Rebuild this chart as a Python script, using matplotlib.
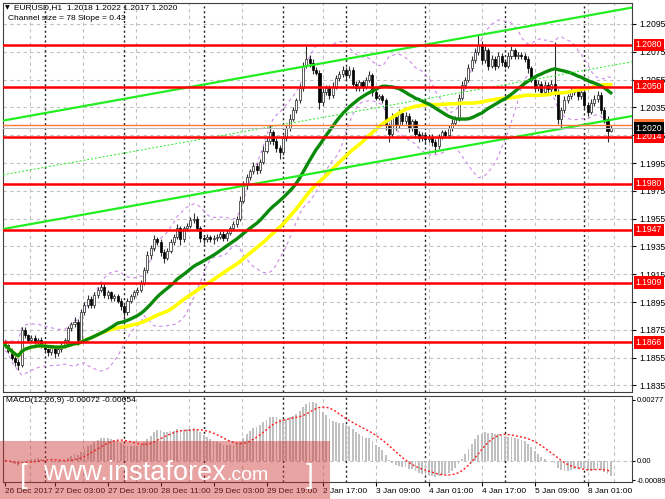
import numpy as np
import pandas as pd
import matplotlib
matplotlib.use("Agg")
import matplotlib.pyplot as plt
from matplotlib.patches import Rectangle
from matplotlib.transforms import blended_transform_factory

plt.rcParams["font.family"] = ["Liberation Sans", "DejaVu Sans"]

# EURUSD H1 closes, one per bar (26 Dec 2017 12:00 .. 8 Jan 2018 08:00)
first_open = 1.1866
closes = [
    1.1864, 1.1860, 1.1855, 1.1852, 1.1850, 1.1875, 1.1871, 1.1868, 1.1869, 1.1866,
    1.1868, 1.1864, 1.1861, 1.1859, 1.1862, 1.1858, 1.1861, 1.1864, 1.1868, 1.1876,
    1.1879, 1.1881, 1.1868, 1.1888, 1.1893, 1.1897, 1.1893, 1.1900, 1.1904, 1.1906,
    1.1900, 1.1902, 1.1898, 1.1899, 1.1896, 1.1892, 1.1888, 1.1896, 1.1899, 1.1902,
    1.1904, 1.1909, 1.1918, 1.1929, 1.1934, 1.1940, 1.1938, 1.1931, 1.1927, 1.1932,
    1.1938, 1.1942, 1.1948, 1.1940, 1.1948, 1.1950, 1.1954, 1.1955, 1.1948, 1.1941,
    1.1940, 1.1942, 1.1940, 1.1941, 1.1942, 1.1944, 1.1941, 1.1945, 1.1948, 1.1951,
    1.1955, 1.1968, 1.1979, 1.1985, 1.1989, 1.1993, 1.1990, 1.1996, 1.2004, 1.2011,
    1.2017, 1.2011, 1.2006, 1.2003, 1.2013, 1.2020, 1.2027, 1.2033, 1.2040, 1.2049,
    1.2065, 1.2070, 1.2067, 1.2062, 1.2060, 1.2039, 1.2046, 1.2049, 1.2044, 1.2050,
    1.2056, 1.2059, 1.2062, 1.2058, 1.2062, 1.2052, 1.2049, 1.2053, 1.2050, 1.2055,
    1.2058, 1.2046, 1.2042, 1.2043, 1.2040, 1.2022, 1.2016, 1.2028, 1.2022, 1.2031,
    1.2025, 1.2029, 1.2020, 1.2025, 1.2016, 1.2013, 1.2015, 1.2012, 1.2014, 1.2010,
    1.2007, 1.2014, 1.2017, 1.2015, 1.2020, 1.2024, 1.2027, 1.2042, 1.2051, 1.2055,
    1.2063, 1.2069, 1.2075, 1.2080, 1.2069, 1.2076, 1.2065, 1.2070, 1.2065, 1.2072,
    1.2068, 1.2065, 1.2072, 1.2076, 1.2072, 1.2073, 1.2072, 1.2070, 1.2063, 1.2055,
    1.2049, 1.2052, 1.2046, 1.2051, 1.2048, 1.2052, 1.2046, 1.2027, 1.2033, 1.2040,
    1.2043, 1.2046, 1.2047, 1.2043, 1.2046, 1.2037, 1.2032, 1.2038, 1.2041, 1.2044,
    1.2033, 1.2027, 1.2018, 1.2020,
]
# wick lengths above / below the body, in pips
wick_up = [
    2, 1, 2, 1, 2, 2, 2, 1, 2, 2,  1, 2, 2, 1, 2, 1, 2, 2, 1, 2,
    2, 3, 2, 2, 2, 3, 2, 2, 2, 3,  2, 2, 1, 2, 2, 2, 2, 2, 2, 2,
    2, 2, 2, 3, 2, 3, 2, 2, 2, 2,  2, 2, 3, 2, 2, 2, 2, 4, 2, 2,
    2, 2, 1, 2, 2, 2, 2, 2, 2, 2,  2, 3, 3, 2, 2, 3, 2, 2, 3, 3,
    5, 2, 2, 2, 2, 2, 3, 2, 2, 3,  3, 9, 3, 3, 2, 2, 3, 2, 2, 3,
    2, 2, 3, 2, 3, 2, 2, 2, 2, 2,  3, 2, 2, 2, 2, 2, 2, 3, 2, 3,
    2, 3, 2, 2, 2, 2, 2, 2, 2, 2,  2, 2, 2, 2, 2, 3, 2, 3, 3, 2,
    3, 3, 3, 8, 3, 3, 2, 3, 2, 3,  2, 2, 3, 3, 2, 2, 2, 2, 2, 2,
    2, 3, 2, 3, 2, 3, 30, 2, 2, 3, 2, 3, 2, 2, 3, 3, 2, 3, 3, 3,
    2, 2, 2, 2,
]
wick_dn = [
    2, 2, 2, 3, 4, 2, 2, 2, 2, 2,  2, 2, 2, 3, 2, 3, 2, 2, 2, 2,
    2, 2, 4, 2, 2, 2, 2, 2, 2, 2,  2, 3, 2, 2, 2, 3, 5, 2, 2, 2,
    2, 2, 2, 2, 3, 2, 2, 3, 4, 2,  2, 2, 2, 4, 2, 2, 2, 2, 2, 3,
    3, 2, 2, 3, 2, 2, 2, 2, 2, 2,  2, 2, 2, 3, 2, 2, 3, 2, 2, 2,
    2, 3, 3, 5, 2, 2, 2, 2, 2, 2,  2, 2, 3, 3, 2, 5, 3, 2, 3, 2,
    2, 2, 2, 3, 2, 3, 2, 2, 3, 2,  2, 3, 2, 2, 2, 3, 6, 2, 3, 2,
    3, 2, 3, 2, 3, 3, 2, 3, 2, 3,  5, 2, 2, 2, 2, 2, 2, 2, 2, 2,
    2, 2, 2, 2, 3, 2, 3, 2, 3, 2,  3, 2, 2, 2, 2, 2, 2, 2, 3, 2,
    3, 2, 3, 2, 3, 2, 3, 4, 7, 2,  2, 2, 2, 3, 2, 3, 3, 2, 2, 2,
    3, 3, 8, 1,
]

levels = [1.2080, 1.2050, 1.2014, 1.1980, 1.1947, 1.1909, 1.1866]
orange_level = 1.2022
last_price = 1.2020
channel_x = [-0.6, 189.4]
channel_low = [1.19475, 1.20288]
channel_size = 0.0078

price_ticks = [1.2095, 1.2075, 1.2055, 1.2035, 1.2015, 1.1995, 1.1975, 1.1955,
               1.1935, 1.1915, 1.1895, 1.1875, 1.1855, 1.1835]
time_tick_bars = [0, 15, 31, 47, 63, 79, 96, 112, 128, 144, 160, 176]
time_tick_labels = ["26 Dec 2017", "27 Dec 03:00", "27 Dec 19:00", "28 Dec 11:00",
                    "29 Dec 03:00", "29 Dec 19:00", "2 Jan 17:00", "3 Jan 09:00",
                    "4 Jan 01:00", "4 Jan 17:00", "5 Jan 09:00", "8 Jan 01:00"]
day_breaks = [12, 36, 60, 84, 103, 127, 151, 175]
grid_bars = [7.5, 23.5, 39.5, 55.5, 71.5, 96, 112, 128, 144, 160, 176, 184]
macd_ticks = [0.00277, 0.0, -0.00089]
macd_tick_labels = ["0.00277", "0.00", "-0.00089"]

# ---- derived series
c = np.array(closes)
o = np.concatenate([[first_open], c[:-1]])
hi = np.maximum(o, c) + np.array(wick_up) * 0.0001
lo = np.minimum(o, c) - np.array(wick_dn) * 0.0001
x = np.arange(len(c))
s = pd.Series(c)
ma_fast = s.rolling(30, min_periods=1).mean()
ma_slow = s.rolling(50, min_periods=1).mean()
bb_mid = s.rolling(20, min_periods=1).mean()
bb_std = s.rolling(20, min_periods=2).std(ddof=0).bfill()
bb_up = bb_mid + 2 * bb_std
bb_dn = bb_mid - 2 * bb_std
macd = s.ewm(span=12, adjust=False).mean() - s.ewm(span=26, adjust=False).mean()
signal = macd.rolling(9, min_periods=1).mean()

W, H = 665, 499
fig = plt.figure(figsize=(W / 100, H / 100), dpi=100)
fig.patch.set_facecolor("white")
ax = fig.add_axes([3 / W, 1 - 392 / H, 629 / W, 389 / H])
ax2 = fig.add_axes([3 / W, 1 - 482 / H, 629 / W, 86 / H])

grid_col = "#c0c0c0"
for a in (ax, ax2):
    a.set_xlim(-0.6, 189.4)
    for b in grid_bars:
        a.axvline(b, color=grid_col, lw=0.8, ls=(0, (3, 3)), zorder=0)
    for b in day_breaks:
        a.axvline(b, color="#202020", lw=1.0, ls=(0, (1.5, 2)), zorder=0.5)
    for sp in a.spines.values():
        sp.set_color("#404040")

# ---- main chart
ax.set_ylim(1.18303, 1.21101)
for p in price_ticks:
    ax.axhline(p, color=grid_col, lw=0.8, ls=(0, (3, 3)), zorder=0)

bb_kw = dict(color="#cc88e8", lw=0.8, ls=(0, (3, 3)), zorder=1)
ax.plot(x, bb_up, **bb_kw)
ax.plot(x, bb_dn, **bb_kw)

up = c >= o
ax.vlines(x, lo, hi, color="#303030", lw=0.8, zorder=2)
body_h = np.maximum(np.abs(c - o), 0.00003)
ax.bar(x[up], body_h[up], bottom=np.minimum(o, c)[up], width=0.62,
       color="white", edgecolor="#202020", lw=0.5, zorder=3)
ax.bar(x[~up], body_h[~up], bottom=np.minimum(o, c)[~up], width=0.62,
       color="black", edgecolor="black", lw=0.5, zorder=3)

ax.plot(x, ma_slow, color="#ffff00", lw=2.6, zorder=4)
ax.plot(x, ma_fast, color="#0a8a0a", lw=2.4, zorder=4)

ch_lo = np.array(channel_low)
ax.plot(channel_x, ch_lo, color="#22ee22", lw=1.6, zorder=5)
ax.plot(channel_x, ch_lo + channel_size, color="#22ee22", lw=1.6, zorder=5)
ax.plot(channel_x, ch_lo + channel_size / 2, color="#22ee22", lw=0.7,
        ls=(0, (2, 2)), zorder=5)

ax.axhline(last_price, color="#b8b8b8", lw=0.8, zorder=5)
ax.axhline(orange_level, color="#ff7733", lw=1.0, zorder=5)
for lv in levels:
    ax.axhline(lv, color="#ff0000", lw=1.8, zorder=6)

ax.yaxis.tick_right()
ax.set_yticks(price_ticks)
ax.set_yticklabels([f"{p:.4f}" for p in price_ticks])
ax.tick_params(axis="y", labelsize=6.2, length=3, pad=2, colors="black")
ax.set_xticks([])

tr = blended_transform_factory(ax.transAxes, ax.transData)
def level_box(val, fc, tc="white"):
    ax.text(1.006, val, f"{val:.4f}", transform=tr, ha="left", va="center",
            fontsize=6.2, color=tc, clip_on=False, zorder=20,
            bbox=dict(boxstyle="square,pad=0.2", fc=fc, ec="none"))
for lv in levels:
    level_box(lv, "#ff0000")
level_box(orange_level, "#ff7733")
level_box(last_price, "black")

# ---- MACD panel
ax2.set_ylim(-0.00098, 0.00295)
ax2.axhline(0, color=grid_col, lw=0.8, ls=(0, (3, 3)), zorder=0)
ax2.bar(x, macd, width=0.55, color="#c0c0c0", zorder=2)
ax2.plot(x, signal, color="#ff2020", lw=1.0, ls=(0, (1.5, 1.5)), zorder=3)
ax2.yaxis.tick_right()
ax2.set_yticks(macd_ticks)
ax2.set_yticklabels(macd_tick_labels)
ax2.tick_params(axis="y", labelsize=5.5, length=2, pad=1.5)
ax2.set_xticks(time_tick_bars)
ax2.set_xticklabels(time_tick_labels, ha="left")
ax2.tick_params(axis="x", labelsize=6, length=3, pad=1)

# ---- header texts
fig.text(5 / W, 1 - 8 / H, "\u25bc", fontsize=4.5, va="center", family="DejaVu Sans")
fig.text(14 / W, 1 - 8 / H, "EURUSD,H1  1.2018 1.2022 1.2017 1.2020",
         fontsize=6, va="center")
fig.text(8 / W, 1 - 19 / H, "Channel size = 78 Slope = 0.43", fontsize=6, va="center")
fig.text(6 / W, 1 - 401 / H, "MACD(12,26,9) -0.00072 -0.00054", fontsize=6, va="center")

# ---- watermark
fig.patches.append(Rectangle((0, 0), 330 / W, 58 / H, transform=fig.transFigure,
                             fc=(0.8, 0.2, 0.2), alpha=0.45, ec="none", zorder=10))
wm = dict(color="white", zorder=11, va="baseline")
fig.text(20 / W, 1 - 483 / H, "[", fontsize=20, **wm)
t_main = fig.text(43 / W, 1 - 480 / H, "www.instaforex", fontsize=19.5, **wm)
fig.canvas.draw()
x_end = t_main.get_window_extent().x1
fig.text(x_end / W, 1 - 480 / H, ".com", fontsize=14, **wm)
fig.text(306 / W, 1 - 483 / H, "]", fontsize=20, **wm)

fig.savefig("out.png", dpi=100)
